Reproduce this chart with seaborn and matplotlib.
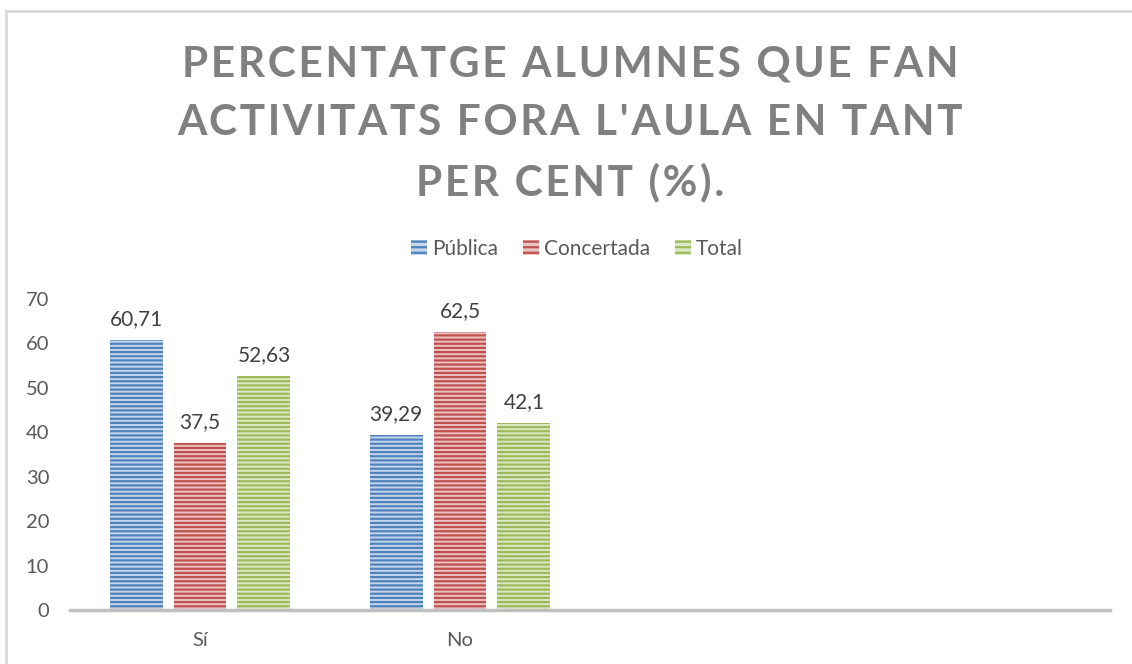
import matplotlib
matplotlib.use("Agg")
import matplotlib.pyplot as plt
import seaborn as sns
import pandas as pd
from matplotlib.patches import Rectangle, Patch

categories = ["Sí", "No"]
series = ["Pública", "Concertada", "Total"]
publica = [60.71, 39.29]
concertada = [37.5, 62.5]
total = [52.63, 42.1]
yticks = [0, 10, 20, 30, 40, 50, 60, 70]
title_lines = ["PERCENTATGE ALUMNES QUE FAN", "ACTIVITATS FORA L'AULA EN TANT", "PER CENT (%)."]

sns.set_theme(style="white")
plt.rcParams['font.family'] = ['Lato', 'DejaVu Sans']
plt.rcParams['hatch.linewidth'] = 1.6

rows = []
for s, vals in zip(series, [publica, concertada, total]):
    for c, v in zip(categories, vals):
        rows.append({"cat": c, "serie": s, "val": v})
df = pd.DataFrame(rows)

light = {"Pública": "#c5d5ea", "Concertada": "#eac4c3", "Total": "#dbe8c6"}
dark = {"Pública": "#4f81bd", "Concertada": "#c0504d", "Total": "#9bbb59"}

fig = plt.figure(figsize=(11.32, 6.64), dpi=100)
ax = fig.add_axes([70/1132, 54/664, 1040/1132, 311/664])

sns.barplot(data=df, x="cat", y="val", hue="serie", order=categories,
            hue_order=series, palette=light, width=0.738, gap=0.172,
            ax=ax, legend=False, saturation=1)

for cont, s in zip(ax.containers, series):
    for p in cont.patches:
        p.set_edgecolor(dark[s])
        p.set_linewidth(0)
        p.set_hatch("----")
    labels = [f"{v:g}".replace(".", ",") for v in cont.datavalues]
    ax.bar_label(cont, labels=labels, padding=8, fontsize=15, color="#404040")

ax.set_xlim(-0.5, 3.5)
ax.set_ylim(0, 70)
ax.set_yticks(yticks)
ax.set_xlabel("")
ax.set_ylabel("")
for sp in ["left", "right", "top"]:
    ax.spines[sp].set_visible(False)
ax.spines["bottom"].set_color("#bfbfbf")
ax.spines["bottom"].set_linewidth(2.5)
ax.tick_params(axis="y", length=0, pad=15, labelsize=14.5, labelcolor="#595959")
ax.tick_params(axis="x", length=0, pad=16, labelsize=14.5, labelcolor="#595959")

handles = [Patch(facecolor=light[s], edgecolor=dark[s], hatch="---", linewidth=0) for s in series]
fig.legend(handles, series, loc="center", bbox_to_anchor=(577/1132, 1 - 249/664),
           ncol=3, frameon=False, fontsize=15, labelcolor="#595959",
           handlelength=0.75, handleheight=0.75, handletextpad=0.25, columnspacing=1.2)

hs = "\u200a"
spaced = "\n".join(hs.join(line) for line in title_lines)
fig.text(570/1132, 1 - 124/664, spaced, ha="center", va="center", fontsize=30.5,
         fontweight="bold", color="#808080", linespacing=1.63)

fig.patches.append(Rectangle((6/1132, -0.1), 1.2, 1.1 - 11/664, transform=fig.transFigure,
                             fill=False, edgecolor="#d9d9d9", linewidth=2, clip_on=False))

fig.savefig("out.png", dpi=100)
